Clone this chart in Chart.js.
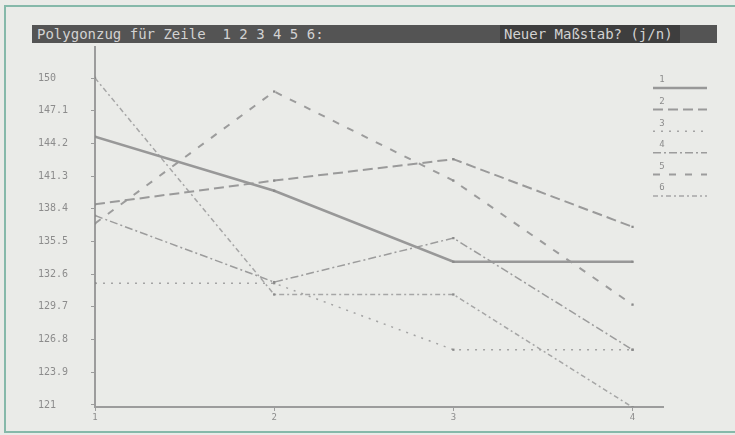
<!DOCTYPE html>
<html>
<head>
<meta charset="utf-8">
<script src="https://cdn.jsdelivr.net/npm/chart.js@4/dist/chart.umd.min.js"></script>
<style>
  body { margin: 0; background: #e9eae7; }
  #screen { position: relative; width: 735px; height: 435px; overflow: hidden; background: #eaebe8; }
  #frame { position: absolute; left: 4px; top: 5px; width: 740px; height: 424px;
           border: 2px solid #86b9aa; border-right: none; }
  #bar { position: absolute; left: 32px; top: 25px; width: 685px; height: 18px; background: #545454;
         font: 14px "DejaVu Sans Mono", monospace; color: #d2d2d2; line-height: 18px; white-space: pre; }
  #bar .l { position: absolute; left: 5px; }
  #bar .r { position: absolute; left: 468px; width: 176px; background: #3e3e3e; padding-left: 4px; }
  #wrap { position: absolute; left: 0; top: 0; width: 735px; height: 435px; }
</style>
</head>
<body>
<div id="screen">
  <div id="wrap"><canvas id="chart"></canvas></div>
  <div id="frame"></div>
  <div id="bar"><span class="l">Polygonzug für Zeile  1 2 3 4 5 6:</span><span class="r">Neuer Maßstab? (j/n)</span></div>
</div>
<script>
// values
const xValues = [1, 2, 3, 4];
const xLabels = ['1', '2', '3', '4'];
const seriesNames = ['1', '2', '3', '4', '5', '6'];
const zeile1 = [144.8, 140.0, 133.7, 133.7];
const zeile2 = [138.8, 140.9, 142.8, 136.8];
const zeile3 = [131.8, 131.8, 125.9, 125.9];
const zeile4 = [137.8, 131.9, 135.8, 125.9];
const zeile5 = [137.1, 148.8, 140.9, 129.9];
const zeile6 = [150.0, 130.8, 130.8, 120.8];
const yTickValues = [150, 147.1, 144.2, 141.3, 138.4, 135.5, 132.6, 129.7, 126.8, 123.9, 121];
const yTickLabels = ['150', '147.1', '144.2', '141.3', '138.4', '135.5', '132.6', '129.7', '126.8', '123.9', '121'];

const MONO = '"DejaVu Sans Mono", monospace';
const AXIS_GRAY = '#9c9c9c';

// line styles per row (like the old plotter patterns)
const STYLES = [
    { color: '#989898', width: 2.5, dash: [] },
    { color: '#9a9a9a', width: 2,   dash: [10, 5] },
    { color: '#a4a4a4', width: 1.5, dash: [2, 6] },
    { color: '#9c9c9c', width: 1.5, dash: [8, 3, 2, 3] },
    { color: '#9c9c9c', width: 2,   dash: [7, 9] },
    { color: '#a6a6a6', width: 1.5, dash: [5, 3, 2, 3] }
];

function toPoints(values) {
    return values.map((v, i) => ({ x: xValues[i], y: v }));
}

const rows = [zeile1, zeile2, zeile3, zeile4, zeile5, zeile6];

const datasets = rows.map((values, i) => ({
    label: seriesNames[i],
    data: toPoints(values),
    borderColor: STYLES[i].color,
    borderWidth: STYLES[i].width,
    borderDash: STYLES[i].dash,
    pointRadius: 1.6,
    pointStyle: 'rect',
    pointBackgroundColor: '#8a8a8a',
    pointBorderWidth: 0,
    tension: 0,
    fill: false
}));

// legend: number above a short line sample, top right
const screenLegend = {
    id: 'screenLegend',
    afterDraw(chart) {
        const ctx = chart.ctx;
        chart.data.datasets.forEach((ds, i) => {
            const y = 88 + i * 21.6;
            ctx.save();
            ctx.font = '9px ' + MONO;
            ctx.fillStyle = '#8c8c8c';
            ctx.textAlign = 'center';
            ctx.textBaseline = 'middle';
            ctx.fillText(ds.label, 662, y - 8);
            ctx.strokeStyle = ds.borderColor;
            ctx.lineWidth = ds.borderWidth;
            ctx.setLineDash(ds.borderDash);
            ctx.beginPath();
            ctx.moveTo(653, y);
            ctx.lineTo(707, y);
            ctx.stroke();
            ctx.restore();
        });
    }
};

new Chart(document.getElementById('chart'), {
    type: 'line',
    data: { datasets: datasets },
    options: {
        responsive: true,
        maintainAspectRatio: false,
        animation: false,
        layout: { padding: { left: 38, top: 47, right: 72, bottom: 0 } },
        plugins: {
            legend: { display: false },
            tooltip: { enabled: false }
        },
        scales: {
            x: {
                type: 'linear',
                min: 1,
                max: 4.17,
                afterBuildTicks: (scale) => { scale.ticks = xValues.map(v => ({ value: v })); },
                afterFit: (scale) => { scale.height = 28; },
                ticks: {
                    callback: (value) => xLabels[xValues.indexOf(value)],
                    font: { family: MONO, size: 9 },
                    color: '#8c8c8c',
                    padding: 1,
                    maxRotation: 0
                },
                grid: { drawOnChartArea: false, drawTicks: true, tickLength: 4, color: AXIS_GRAY },
                border: { display: true, color: AXIS_GRAY, width: 2 }
            },
            y: {
                min: 120.82,
                max: 152.75,
                afterBuildTicks: (scale) => { scale.ticks = yTickValues.map(v => ({ value: v })); },
                afterFit: (scale) => { scale.width = 57; },
                ticks: {
                    callback: (value) => yTickLabels[yTickValues.indexOf(value)],
                    font: { family: MONO, size: 10 },
                    color: '#8c8c8c',
                    crossAlign: 'far'
                },
                grid: { drawOnChartArea: false, drawTicks: true, tickLength: 4, color: AXIS_GRAY },
                border: { display: true, color: AXIS_GRAY, width: 2 }
            }
        }
    },
    plugins: [screenLegend]
});
</script>
</body>
</html>
